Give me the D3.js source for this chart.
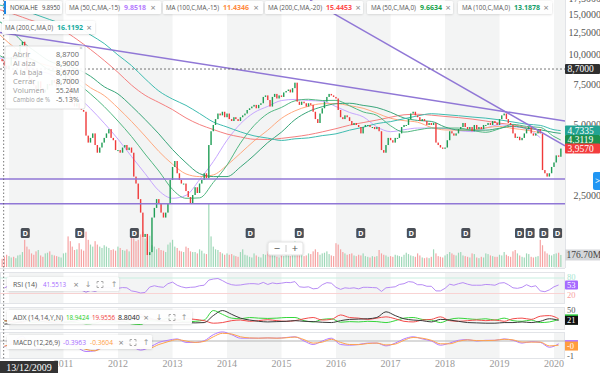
<!DOCTYPE html>
<html>
<head>
<meta charset="utf-8">
<script src="https://cdn.jsdelivr.net/npm/d3@7"></script>
<style>
  body { margin: 0; background: #fff; }
  svg { display: block; font-family: "Open Sans", sans-serif; }
</style>
</head>
<body>
<svg id="chart" width="600" height="373"></svg>
<script>
// ---------------- data ----------------
var symbol = "NOKIA.HE", symbolValue = "9.8950";
// semi-monthly candles (1st and 16th of month), first bar 2009-11-16
var closes = [
  9.4, 9.0, 8.7,
  9.0, 9.8, 9.6, 9.9, 10.1, 11.0, 11.4, 10.9, 8.6, 7.9, 7.6, 7.4, 7.1, 7.7, 7.2, 6.9, 7.1, 7.5, 7.4, 7.8, 7.6, 7.3, 7.6, 7.8,
  7.9, 8.2, 8.1, 6.4, 6.2, 6.0, 6.2, 5.9, 5.8, 5.7, 4.5, 4.2, 4.4, 4.6, 4.1, 3.8, 4.0, 4.2, 4.4, 4.6, 4.8, 4.4, 4.3, 3.9,
  3.9, 3.8, 4.0, 4.1, 3.9, 4.0, 3.8, 3.0, 2.8, 2.4, 2.1, 1.65, 1.7, 1.38, 1.42, 2.0, 2.2, 2.4, 2.3, 2.1, 2.0, 2.1, 2.3, 2.9,
  3.3, 3.5, 3.1, 2.9, 2.8, 2.8, 2.6, 2.45, 2.3, 2.5, 2.7, 2.55, 2.8, 2.9, 3.1, 2.95, 4.1, 4.7, 5.0, 5.3, 5.6, 5.5, 5.7, 5.4,
  5.6, 5.3, 5.2, 5.4, 5.3, 5.2, 5.4, 5.5, 5.6, 5.8, 5.9, 6.0, 6.1, 5.9, 6.1, 6.2, 6.6, 6.7, 6.4, 6.0, 6.6, 6.8, 6.5, 6.7,
  6.6, 6.9, 7.0, 7.1, 6.9, 7.2, 7.6, 6.3, 6.1, 6.3, 6.2, 6.0, 6.2, 6.1, 5.7, 5.3, 5.1, 5.6, 5.9, 6.3, 6.6, 6.8, 6.7, 6.6,
  6.5, 5.8, 5.4, 5.3, 5.5, 5.4, 5.2, 5.0, 5.1, 5.0, 4.9, 4.6, 4.9, 5.0, 5.0, 4.9, 4.9, 4.8, 4.9, 4.7, 3.9, 3.8, 4.1, 4.4,
  4.3, 4.2, 4.4, 4.4, 4.6, 4.9, 5.0, 5.0, 5.3, 5.6, 5.7, 5.5, 5.4, 5.2, 5.3, 5.2, 5.0, 5.1, 5.0, 5.1, 4.2, 4.1, 4.0, 3.95,
  4.0, 4.3, 4.7, 4.6, 4.5, 4.6, 4.8, 4.9, 5.1, 4.9, 4.8, 4.9, 4.7, 5.0, 4.8, 4.9, 4.8, 5.0, 5.0, 5.1, 5.0, 5.2, 5.1, 5.0,
  5.3, 5.5, 5.6, 5.3, 5.1, 5.0, 4.6, 4.4, 4.45, 4.3, 4.4, 4.6, 4.8, 4.9, 4.6, 4.5, 4.6, 4.8, 4.6, 3.2, 3.1, 3.0, 3.1, 3.3,
  3.45, 3.7, 3.65, 3.96
];
var firstOpen = 9.6;

// volume per candle, millions
var volumes = [
  120, 150, 180,
  160, 140, 150, 130, 170, 180, 220, 400, 300, 260, 200, 180, 230, 250, 170, 150, 200, 210, 230, 180, 170, 160, 150, 140,
  200, 210, 450, 380, 300, 250, 260, 350, 260, 240, 520, 400, 330, 300, 380, 330, 300, 280, 320, 300, 280, 250, 260, 240,
  300, 280, 250, 240, 260, 230, 480, 420, 380, 400, 480, 520, 420, 380, 460, 320, 300, 260, 280, 250, 240, 220, 330, 360,
  400, 300, 280, 240, 230, 220, 300, 280, 230, 220, 220, 200, 260, 240, 200, 190, 940, 450, 300, 260, 250, 220, 200, 180,
  200, 180, 190, 170, 160, 150, 220, 260, 180, 170, 150, 140, 200, 170, 150, 140, 190, 180, 230, 200, 180, 170, 150, 140,
  170, 160, 180, 170, 160, 200, 380, 320, 220, 180, 160, 170, 200, 190, 230, 260, 220, 180, 200, 210, 230, 190, 170, 160,
  350, 330, 260, 220, 200, 180, 190, 200, 170, 160, 180, 170, 200, 160, 150, 140, 160, 150, 160, 250, 200, 180, 170, 150,
  160, 150, 180, 170, 160, 150, 180, 210, 190, 170, 160, 150, 200, 170, 140, 130, 140, 130, 150, 260, 200, 160, 150, 140,
  170, 190, 220, 200, 180, 170, 210, 220, 170, 160, 150, 140, 200, 190, 140, 130, 150, 140, 200, 190, 170, 160, 150, 150,
  180, 170, 220, 180, 160, 150, 230, 250, 200, 170, 150, 140, 200, 190, 150, 140, 150, 160, 400, 320, 230, 200, 180, 170,
  190, 200, 210, 177
];

// moving averages, quarterly readings from 2009-10-01 to 2020-01-01, then 2020-02-15
var ma50s15 = [9.63, 9.74, 9.28, 8.57, 8.28, 7.48, 6.68, 5.88, 5.09, 4.35, 3.66, 3.09, 2.61, 2.42, 2.49, 2.91, 3.48,
  4.30, 5.06, 5.65, 6.01, 6.37, 6.44, 6.37, 6.33, 6.0, 5.66, 5.42, 4.91, 4.68, 4.77, 4.85, 4.85, 4.83, 4.73, 4.68, 4.85,
  5.01, 4.92, 4.82, 4.41, null, null];
var ma100s15 = [12.76, 11.24, 10.17, 9.34, 8.96, 8.61, 7.98, 7.23, 6.69, 5.92, 5.18, 4.48, 3.85, 3.39, 3.08, 3.0, 3.05,
  3.36, 3.78, 4.27, 4.75, 5.34, 5.75, 6.02, 6.17, 6.18, 6.05, 5.9, 5.62, 5.34, 5.22, 5.14, 4.88, 4.76, 4.75, 4.76, 4.86,
  4.93, 4.83, 4.75, 4.63, null, null];
var ma200s20 = [15.83, 15.23, 14.53, 13.88, 13.44, 12.72, 11.67, 10.56, 9.47, 8.42, 7.42, 6.71, 6.25, 5.82, 5.36, 5.02, 4.78,
  4.57, 4.44, 4.34, 4.33, 4.38, 4.45, 4.54, 4.67, 4.82, 4.99, 5.12, 5.25, 5.4, 5.53, 5.56, 5.51, 5.44, 5.38, 5.3, 5.2,
  5.09, 5.01, 4.87, 4.74, null, null];
var ma50 = [10.25, 9.62, 9.8, 9.4, 8.6, 8.4, 7.6, 6.8, 6.0, 5.2, 4.46, 3.75, 3.17, 2.64, 2.42, 2.43, 2.83,
  3.36, 4.18, 4.97, 5.6, 5.95, 6.35, 6.45, 6.37, 6.38, 6.05, 5.69, 5.5, 4.96, 4.66, 4.76, 4.85, 4.85, 4.85, 4.74, 4.65,
  4.82, 5.03, 4.93, 4.88, 4.46, 4.31];
var ma100 = [14.3, 13.0, 11.4, 10.3, 9.4, 9.0, 8.7, 8.1, 7.3, 6.8, 6.03, 5.28, 4.58, 3.92, 3.44, 3.09, 3.0,
  3.0, 3.3, 3.7, 4.2, 4.66, 5.27, 5.71, 5.99, 6.17, 6.2, 6.07, 5.94, 5.67, 5.36, 5.23, 5.18, 4.9, 4.76, 4.75, 4.75,
  4.84, 4.94, 4.84, 4.77, 4.64, 4.6];
var ma200 = [16.5, 16.1, 15.6, 14.9, 14.2, 13.6, 13.3, 12.2, 11.2, 10.0, 9.0, 7.9, 7.0, 6.46, 6.07, 5.6, 5.15,
  4.9, 4.67, 4.49, 4.39, 4.29, 4.36, 4.4, 4.5, 4.58, 4.75, 4.89, 5.07, 5.17, 5.32, 5.47, 5.59, 5.54, 5.48, 5.41, 5.35,
  5.26, 5.15, 5.04, 4.98, 4.77, 4.73];

// RSI(14), monthly from 2009-12
var rsi = [41.5,
  50, 52, 60, 64, 38, 36, 42, 38, 44, 47, 44, 48,
  52, 36, 34, 35, 33, 25, 32, 28, 35, 43, 44, 38,
  40, 43, 42, 30, 27, 22, 24, 45, 50, 46, 44, 58,
  64, 52, 46, 42, 44, 45, 50, 52, 72, 76, 78, 70,
  60, 54, 52, 53, 56, 58, 58, 56, 63, 55, 61, 58,
  60, 63, 62, 66, 46, 44, 46, 38, 40, 54, 62, 60,
  44, 36, 42, 40, 42, 38, 44, 44, 43, 42, 28, 42,
  44, 46, 55, 58, 66, 64, 54, 54, 48, 48, 30, 30,
  40, 56, 52, 58, 62, 56, 52, 52, 52, 55, 54, 52,
  60, 62, 54, 42, 40, 44, 54, 46, 50, 30, 27, 34,
  46, 53];

// ADX(14,14) and MACD(12,26,9), every two months from 2009-12
var diPlus = [19, 22, 30, 14, 16, 20, 21, 15, 14, 10, 12, 20, 15, 17, 10, 8, 20, 18, 28, 22, 16, 18, 22, 52, 40,
  28, 26, 30, 28, 27, 28, 30, 30, 20, 16, 24, 26, 15, 17, 16, 18, 17, 14, 20, 28, 30, 24, 22, 14,
  24, 28, 26, 24, 26, 22, 28, 20, 18, 22, 14, 16, 24];
var diMinus = [20, 16, 14, 30, 24, 18, 17, 30, 28, 36, 32, 22, 26, 22, 34, 40, 24, 22, 16, 22, 26, 24, 20, 12, 14,
  20, 22, 18, 20, 23, 20, 18, 20, 26, 30, 22, 24, 38, 30, 28, 24, 28, 32, 26, 18, 16, 22, 24, 32,
  20, 18, 20, 22, 20, 22, 18, 26, 28, 24, 34, 36, 26];
var adx = [9, 12, 18, 20, 18, 14, 12, 16, 20, 28, 30, 24, 20, 17, 22, 32, 28, 20, 18, 14, 14, 13, 14, 36, 52,
  40, 28, 22, 18, 16, 17, 18, 20, 18, 17, 15, 14, 20, 24, 25, 26, 30, 48, 36, 26, 22, 20, 16, 24,
  22, 18, 14, 13, 12, 12, 14, 14, 16, 14, 18, 26, 21];
var macd = [-0.40, -0.05, 0.35, -0.5, -0.55, -0.2, 0.05, -0.2, -0.45, -0.75, -0.7, -0.25, -0.2, -0.1, -0.35, -0.65,
  -0.45, -0.1, 0.05, 0.15, -0.1, -0.1, 0.02, 0.45, 0.65, 0.45, 0.2, 0.2, 0.2, 0.22, 0.2, 0.25, 0.3, 0.0, -0.25, 0.0,
  0.2, -0.25, -0.3, -0.25, -0.15, -0.15, -0.35, -0.15, 0.15, 0.3, 0.15, 0.0, -0.3, -0.15, 0.05, 0.1, 0.0, 0.05, 0.05,
  0.15, 0.05, -0.15, -0.05, -0.1, -0.45, -0.2];
var macdSignal = [-0.36, -0.2, 0.15, -0.2, -0.5, -0.35, -0.08, -0.1, -0.35, -0.6, -0.7, -0.4, -0.22, -0.14, -0.25, -0.5,
  -0.5, -0.25, -0.05, 0.1, 0.0, -0.1, -0.03, 0.3, 0.55, 0.5, 0.3, 0.22, 0.2, 0.22, 0.2, 0.23, 0.28, 0.1, -0.15, -0.08,
  0.12, -0.1, -0.25, -0.26, -0.18, -0.15, -0.28, -0.22, 0.05, 0.25, 0.2, 0.05, -0.2, -0.2, -0.02, 0.08, 0.03, 0.03, 0.05,
  0.12, 0.08, -0.08, -0.08, -0.08, -0.35, -0.3];

var dividendDates = ["2010-04-20", "2011-04-20", "2012-04-20", "2014-06-05", "2015-04-30", "2016-06-15",
  "2017-05-20", "2018-05-20", "2019-05-15", "2019-07-25", "2019-10-25", "2020-01-25"];

// drawings: trend lines [date, price] pairs and horizontal levels
var trendLines = [
  [["2009-11-01", 12.5], ["2020-03-15", 5.2]],
  [["2015-07-12", 17.2], ["2020-03-15", 4.07]]
];
var levels = [2.93, 2.29];
var priceTicks = [17.5, 15, 12.5, 10, 7.5, 5, 2.5];
var yearTicks = d3.range(2011, 2021);

var crosshair = { date: "2009-12-13", label: "13/12/2009", close: 8.70 };
var tooltipRows = [["Abrir", "8,8700"], ["Al alza", "8,9000"], ["A la baja", "8,6700"],
  ["Cerrar", "8,7000"], ["Volumen", "55.24M"], ["Cambio de %", "-5.13%"]];

var maLegend = [
  { name: "MA (50,C,MA,-15)", value: "9.8518", color: "#b57cff" },
  { name: "MA (100,C,MA,-15)", value: "11.4346", color: "#ff8a3d" },
  { name: "MA (200,C,MA,-20)", value: "15.4453", color: "#ff4d4d" },
  { name: "MA (50,C,MA,0)", value: "9.6634", color: "#17a34a" },
  { name: "MA (100,C,MA,0)", value: "13.1878", color: "#149e6a" },
  { name: "MA (200,C,MA,0)", value: "16.1192", color: "#17ab9f" }
];

// ---------------- scales ----------------
var parse = d3.timeParse("%Y-%m-%d");
var svg = d3.select("#chart");
var plotR = 565;
var main = { top: 0, bottom: 268 };
var panels = { rsi: [272, 303], adx: [307, 329], macd: [332, 358] };

var x = d3.scaleTime().domain([new Date(2010, 0, 1), new Date(2020, 0, 1)]).range([9, 554]);
var y = d3.scaleLog().domain([2.5, 15]).range([195, 14]);
var yVol = d3.scaleLinear().domain([0, 1000]).range([267, 199]);
var yRsi = d3.scaleLinear().domain([20, 80]).range([293.5, 278]);
var yAdx = d3.scaleLinear().domain([0, 60]).range([327, 308]);
var yMacd = d3.scaleLinear().domain([-1, 0]).range([355, 341]);

function barDate(i) { var k = i + 1; return new Date(2009, 10 + Math.floor(k / 2), k % 2 ? 16 : 1); }
var bars = closes.map(function(c, i) {
  return { date: barDate(i), open: i ? closes[i - 1] : firstOpen, close: c, vol: volumes[i] };
});
var maDates = d3.range(42).map(function(i) { return new Date(2009, 9 + 3 * i, 1); }).concat([new Date(2020, 1, 15)]);
var rsiDates = rsi.map(function(d, i) { return new Date(2009, 11 + i, 1); });
var bimDates = adx.map(function(d, i) { return new Date(2009, 11 + 2 * i, 1); });

var defs = svg.append("defs");
defs.append("clipPath").attr("id", "clipMain").append("rect").attr("x", 0).attr("y", 0).attr("width", plotR).attr("height", main.bottom);
defs.append("clipPath").attr("id", "clipSub").append("rect").attr("x", 0).attr("y", 270).attr("width", plotR).attr("height", 90);
var shadow = defs.append("filter").attr("id", "shadow").attr("x", "-10%").attr("y", "-30%").attr("width", "120%").attr("height", "160%");
shadow.append("feDropShadow").attr("dx", 0).attr("dy", 0.5).attr("stdDeviation", 1).attr("flood-color", "#000").attr("flood-opacity", 0.18);

// ---------------- background bands ----------------
var bandYears = [2010, 2012, 2014, 2016, 2018, 2020];
var bandRanges = [[main.top, main.bottom], panels.rsi, panels.adx, panels.macd];
var bg = svg.append("g");
bandRanges.forEach(function(r) {
  bg.selectAll(null).data(bandYears).enter().append("rect")
    .attr("x", function(d) { return x(new Date(d, 0, 1)); })
    .attr("width", function(d) { return Math.min(plotR, x(new Date(d + 1, 0, 1))) - x(new Date(d, 0, 1)); })
    .attr("y", r[0]).attr("height", r[1] - r[0])
    .attr("fill", "#f3f4f4");
});
// panel frames
[panels.rsi, panels.adx, panels.macd].forEach(function(r) {
  bg.append("rect").attr("x", 0.5).attr("y", r[0] + 0.5).attr("width", plotR - 1).attr("height", r[1] - r[0])
    .attr("fill", "none").attr("stroke", "#e2e4e8");
});
bg.append("line").attr("x1", 0).attr("x2", plotR).attr("y1", main.bottom + 0.5).attr("y2", main.bottom + 0.5).attr("stroke", "#e2e4e8");
bg.append("line").attr("x1", plotR + 0.5).attr("x2", plotR + 0.5).attr("y1", 0).attr("y2", main.bottom).attr("stroke", "#e2e4e8");

// ---------------- main panel ----------------
var gMain = svg.append("g").attr("clip-path", "url(#clipMain)");

// volume
gMain.append("g").selectAll("rect").data(bars).enter().append("rect")
  .attr("x", function(d) { return x(d.date) - 0.6; })
  .attr("width", 1.2)
  .attr("y", function(d) { return yVol(d.vol); })
  .attr("height", function(d) { return yVol(0) - yVol(d.vol); })
  .attr("fill", function(d) { return d.close >= d.open ? "#9fd8b8" : "#f6a3a3"; });

// moving averages
var maSeries = [
  { v: ma50s15, color: "#c7a6ff" },
  { v: ma100s15, color: "#ffaa80" },
  { v: ma200s20, color: "#f58080" },
  { v: ma50, color: "#52b882" },
  { v: ma100, color: "#3aa67a" },
  { v: ma200, color: "#3fbcb0" }
];
var maLine = d3.line()
  .defined(function(d) { return d.v != null; })
  .x(function(d) { return x(d.date); })
  .y(function(d) { return y(d.v); })
  .curve(d3.curveMonotoneX);
maSeries.forEach(function(s) {
  gMain.append("path")
    .datum(s.v.map(function(v, i) { return { date: maDates[i], v: v }; }))
    .attr("d", maLine).attr("fill", "none").attr("stroke", s.color).attr("stroke-width", 1);
});

// candles
var gc = gMain.append("g");
gc.selectAll("rect").data(bars).enter().append("rect")
  .attr("x", function(d) { return x(d.date) - 0.7; })
  .attr("width", 1.4)
  .attr("y", function(d) { return y(Math.max(d.open, d.close)); })
  .attr("height", function(d) { return Math.max(1, Math.abs(y(d.open) - y(d.close))); })
  .attr("fill", function(d) { return d.close >= d.open ? "#1f9d55" : "#f03a3a"; });

// horizontal levels and trend lines
gMain.append("g").selectAll("line").data(levels).enter().append("line")
  .attr("x1", 0).attr("x2", plotR)
  .attr("y1", function(d) { return y(d); }).attr("y2", function(d) { return y(d); })
  .attr("stroke", "#9077d6").attr("stroke-width", 1.5);
gMain.append("g").selectAll("line").data(trendLines).enter().append("line")
  .attr("x1", function(d) { return x(parse(d[0][0])); }).attr("y1", function(d) { return y(d[0][1]); })
  .attr("x2", function(d) { return x(parse(d[1][0])); }).attr("y2", function(d) { return y(d[1][1]); })
  .attr("stroke", "#9077d6").attr("stroke-width", 1.5);

// crosshair price line
gMain.append("line").attr("x1", 0).attr("x2", plotR)
  .attr("y1", y(crosshair.close)).attr("y2", y(crosshair.close))
  .attr("stroke", "#555").attr("stroke-dasharray", "2,2").attr("stroke-width", 0.8);

// dividend markers
var gD = svg.append("g");
dividendDates.forEach(function(s) {
  var cx = x(parse(s));
  gD.append("rect").attr("x", cx - 4.5).attr("y", 228).attr("width", 9).attr("height", 10).attr("rx", 1.5).attr("fill", "#4a4f57");
  gD.append("text").attr("x", cx).attr("y", 236).attr("text-anchor", "middle")
    .attr("font-size", 7.5).attr("font-weight", "bold").attr("fill", "#fff").text("D");
});

// zoom control
var zc = svg.append("g");
zc.append("rect").attr("x", 268).attr("y", 242).attr("width", 35).attr("height", 13).attr("rx", 2)
  .attr("fill", "#fff").attr("stroke", "#e3e3e3").attr("filter", "url(#shadow)");
zc.append("text").attr("x", 277).attr("y", 252).attr("text-anchor", "middle").attr("font-size", 11).attr("fill", "#555").text("\u2212");
zc.append("line").attr("x1", 286).attr("x2", 286).attr("y1", 245).attr("y2", 252).attr("stroke", "#ccc");
zc.append("text").attr("x", 295).attr("y", 252).attr("text-anchor", "middle").attr("font-size", 11).attr("fill", "#555").text("+");

// ---------------- sub panels ----------------
var gSub = svg.append("g").attr("clip-path", "url(#clipSub)");
// RSI
gSub.append("line").attr("x1", 0).attr("x2", plotR).attr("y1", yRsi(80)).attr("y2", yRsi(80)).attr("stroke", "#c8eee0");
gSub.append("line").attr("x1", 0).attr("x2", plotR).attr("y1", yRsi(20)).attr("y2", yRsi(20)).attr("stroke", "#f9d3d3");
gSub.append("path")
  .datum(rsi.map(function(v, i) { return { date: rsiDates[i], v: v }; }))
  .attr("d", d3.line().x(function(d) { return x(d.date); }).y(function(d) { return yRsi(d.v); }))
  .attr("fill", "none").attr("stroke", "#b88cf5").attr("stroke-width", 1);
// ADX
var adxLine = d3.line().x(function(d) { return x(d.date); }).y(function(d) { return yAdx(d.v); }).curve(d3.curveMonotoneX);
[[diPlus, "#35d63a"], [diMinus, "#f34b4b"], [adx, "#3a3a3a"]].forEach(function(s) {
  gSub.append("path")
    .datum(s[0].map(function(v, i) { return { date: bimDates[i], v: v }; }))
    .attr("d", adxLine).attr("fill", "none").attr("stroke", s[1]).attr("stroke-width", 1);
});
// MACD
gSub.append("line").attr("x1", 0).attr("x2", plotR).attr("y1", yMacd(0)).attr("y2", yMacd(0)).attr("stroke", "#b5b5b5").attr("stroke-width", 1.2);
var macdLine = d3.line().x(function(d) { return x(d.date); }).y(function(d) { return yMacd(d.v); }).curve(d3.curveMonotoneX);
[[macd, "#b47cff"], [macdSignal, "#ffa34d"]].forEach(function(s) {
  gSub.append("path")
    .datum(s[0].map(function(v, i) { return { date: bimDates[i], v: v }; }))
    .attr("d", macdLine).attr("fill", "none").attr("stroke", s[1]).attr("stroke-width", 1);
});

// crosshair vertical
svg.append("line").attr("x1", x(parse(crosshair.date)) - 2.5).attr("x2", x(parse(crosshair.date)) - 2.5)
  .attr("y1", 0).attr("y2", 360).attr("stroke", "#555").attr("stroke-dasharray", "1.5,2").attr("stroke-width", 0.8);

// ---------------- axes ----------------
var serif = "'Liberation Serif', 'DejaVu Serif', serif";
var fmtPrice = function(v) { return d3.format(".4f")(v).replace(".", ","); };
var axR = svg.append("g");
axR.selectAll("text").data(priceTicks).enter().append("text")
  .attr("x", 601).attr("y", function(d) { return y(d) + 3.5; }).attr("text-anchor", "end")
  .attr("font-family", serif).attr("font-size", 10).attr("fill", "#555").text(fmtPrice);

function tag(g, yc, txt, fill, color) {
  g.append("rect").attr("x", 565).attr("y", yc - 5).attr("width", 35).attr("height", 10).attr("rx", 1).attr("fill", fill);
  g.append("text").attr("x", 567.5).attr("y", yc + 3.3).attr("font-family", serif).attr("font-size", 9.5)
    .attr("fill", color).text(txt);
}
tag(axR, y(crosshair.close), fmtPrice(crosshair.close), "#2f2f2f", "#fff");
tag(axR, y(ma200[ma200.length - 1]), fmtPrice(4.7335), "#23a393", "#fff");
tag(axR, y(ma50[ma50.length - 1]), fmtPrice(4.3119), "#1d8f4e", "#fff");
tag(axR, y(closes[closes.length - 1]), fmtPrice(3.9570), "#f23c3c", "#fff");
// volume label
axR.append("rect").attr("x", 565).attr("y", yVol(176.7) - 5.5).attr("width", 35).attr("height", 11).attr("fill", "#d5d7da");
axR.append("text").attr("x", 566.5).attr("y", yVol(176.7) + 3.5).attr("font-family", serif).attr("font-size", 9.5).attr("fill", "#444").text("176.70M");

// RSI axis
var small = 8.5;
axR.append("text").attr("x", 567).attr("y", yRsi(80) + 2).attr("font-family", serif).attr("font-size", small).attr("fill", "#a8e6cf").text("80");
axR.append("text").attr("x", 567).attr("y", yRsi(20) + 4.5).attr("font-family", serif).attr("font-size", small).attr("fill", "#f7a0a0").text("20");
axR.append("rect").attr("x", 565).attr("y", yRsi(53) - 4.5).attr("width", 13).attr("height", 9).attr("rx", 1).attr("fill", "#a66bff");
axR.append("text").attr("x", 567).attr("y", yRsi(53) + 3).attr("font-family", serif).attr("font-size", small).attr("fill", "#fff").text("53");
// ADX axis
axR.append("text").attr("x", 567).attr("y", yAdx(50) + 2).attr("font-family", serif).attr("font-size", small).attr("fill", "#555").text("50");
axR.append("rect").attr("x", 565).attr("y", yAdx(21) - 6).attr("width", 13).attr("height", 10).attr("fill", "#2ecc40");
axR.append("rect").attr("x", 565).attr("y", yAdx(21) - 4.5).attr("width", 13).attr("height", 9).attr("fill", "#111");
axR.append("text").attr("x", 567).attr("y", yAdx(21) + 3).attr("font-family", serif).attr("font-size", small).attr("fill", "#fff").text("21");
// MACD axis
axR.append("rect").attr("x", 565).attr("y", yMacd(-0.36) - 6).attr("width", 13).attr("height", 10).attr("fill", "#b47cff");
axR.append("rect").attr("x", 565).attr("y", yMacd(-0.36) - 4.5).attr("width", 13).attr("height", 9).attr("fill", "#ff9d3f");
axR.append("text").attr("x", 567).attr("y", yMacd(-0.36) + 3).attr("font-family", serif).attr("font-size", small).attr("fill", "#fff").text("-0");
axR.append("text").attr("x", 567).attr("y", yMacd(-1) + 4).attr("font-family", serif).attr("font-size", small).attr("fill", "#555").text("-1");

// right side button
axR.append("rect").attr("x", 593).attr("y", 172).attr("width", 10).attr("height", 18).attr("rx", 2).attr("fill", "#2196f3");
axR.append("text").attr("x", 595).attr("y", 184).attr("font-size", 9).attr("fill", "#fff").text(">");

// x axis
svg.append("g").selectAll("text").data(yearTicks).enter().append("text")
  .attr("x", function(d) { return x(new Date(d, 0, 1)); }).attr("y", 367).attr("text-anchor", "middle")
  .attr("font-family", serif).attr("font-size", 10).attr("fill", "#999").text(function(d) { return d; });
svg.append("rect").attr("x", 0).attr("y", 361).attr("width", 58).attr("height", 12).attr("fill", "#333");
svg.append("text").attr("x", 29).attr("y", 370.5).attr("text-anchor", "middle")
  .attr("font-family", serif).attr("font-size", 10).attr("fill", "#fff").text(crosshair.label);

// ---------------- legends ----------------
function box(x0, x1, y0, y1) {
  return svg.append("rect").attr("x", x0).attr("y", y0).attr("width", x1 - x0).attr("height", y1 - y0)
    .attr("rx", 1.5).attr("fill", "#fff").attr("fill-opacity", 0.95).attr("filter", "url(#shadow)");
}
// text squeezed into the width it has in the picture
function txt(xp, yp, s, color, size, anchor, maxW) {
  var t = svg.append("text").attr("x", xp).attr("y", yp).attr("font-size", size || 7).attr("fill", color)
    .attr("text-anchor", anchor || "start").text(s);
  if (maxW && t.node().getComputedTextLength() > maxW) {
    t.attr("textLength", maxW).attr("lengthAdjust", "spacingAndGlyphs");
  }
  return t;
}
function closeX(xp, yp) { txt(xp, yp, "\u00d7", "#888", 9, "middle"); }

// symbol box
box(4, 62, 1, 14);
svg.append("rect").attr("x", 4).attr("y", 1).attr("width", 2).attr("height", 13).attr("fill", "#1e88e5");
txt(10, 10, symbol, "#444", 7, "start", 28);
txt(42, 10, symbolValue, "#444", 7, "start", 18);
// MA boxes: [box left, box right, name x, value x, close x]
var maBoxes = [[66, 161, 69, 124, 153], [163, 263, 166, 223, 256], [265, 363, 268, 326, 358],
  [367, 453, 371, 420, 448], [458, 552, 462, 514, 546]];
function maBox(b, m, y0) {
  box(b[0], b[1], y0, y0 + 13);
  txt(b[2], y0 + 9, m.name, "#555", 7, "start", b[3] - b[2] - 4);
  txt(b[3], y0 + 9, m.value, m.color, 7, "start", b[4] - b[3] - 6).attr("font-weight", "bold");
  closeX(b[4], y0 + 9.5);
}
maBoxes.forEach(function(b, i) { maBox(b, maLegend[i], 1); });
maBox([2, 95, 5, 57, 89], maLegend[5], 21);

// tooltip
svg.append("rect").attr("x", 5).attr("y", 46).attr("width", 80).attr("height", 63).attr("rx", 2)
  .attr("fill", "#fff").attr("fill-opacity", 0.92).attr("stroke", "#e0e0e0");
txt(81, 50, "\u00d7", "#aaa", 6, "middle");
tooltipRows.forEach(function(r, i) {
  txt(13, 57 + i * 9, r[0], "#a0a0a0", 7.5, "start", 37);
  txt(79, 57 + i * 9, r[1], "#666", 7.5, "end", 23);
});

// indicator legends
function expandIcon(cx, cy) {
  var p = "M" + (cx - 3) + "," + (cy - 1) + "v-2h2M" + (cx + 1) + "," + (cy - 3) + "h2v2M" + (cx + 3) + "," + (cy + 1) +
    "v2h-2M" + (cx - 1) + "," + (cy + 3) + "h-2v-2";
  svg.append("path").attr("d", p).attr("fill", "none").attr("stroke", "#999").attr("stroke-width", 0.8);
}
function indLegend(x0, x1, y0, y1, name, nameW, vals, icons) {
  box(x0, x1, y0, y1);
  var bl = y0 + 10;
  txt(x0 + 6, bl, name, "#555", 7, "start", nameW);
  vals.forEach(function(v) { txt(v[0], bl, v[1], v[2], 7, "start", 23); });
  icons.forEach(function(ic) {
    if (ic[1] === "x") closeX(ic[0], bl + 0.5);
    else if (ic[1] === "e") expandIcon(ic[0], bl - 2.5);
    else txt(ic[0], bl, ic[1], "#999", 8, "middle").attr("font-family", "DejaVu Sans");
  });
}
indLegend(7, 119, 277, 291, "RSI (14)", 27, [[43, "41.5513", "#a66bff"]],
  [[76, "x"], [88, "\u2193"], [100, "e"], [114, "\u2191"]]);
indLegend(7, 192, 310, 324, "ADX (14,14,Y,N)", 50, [[66, "18.9424", "#25d12b"], [92, "19.9556", "#f23c3c"], [118, "8.8040", "#222"]],
  [[146, "x"], [159, "\u2193"], [172, "e"], [184, "\u2191"]]);
indLegend(7, 152, 335, 349, "MACD (12,26,9)", 47, [[63, "-0.3963", "#a66bff"], [90, "-0.3604", "#ff9d3f"]],
  [[121, "x"], [133, "e"], [146, "\u2191"]]);
</script>
</body>
</html>
